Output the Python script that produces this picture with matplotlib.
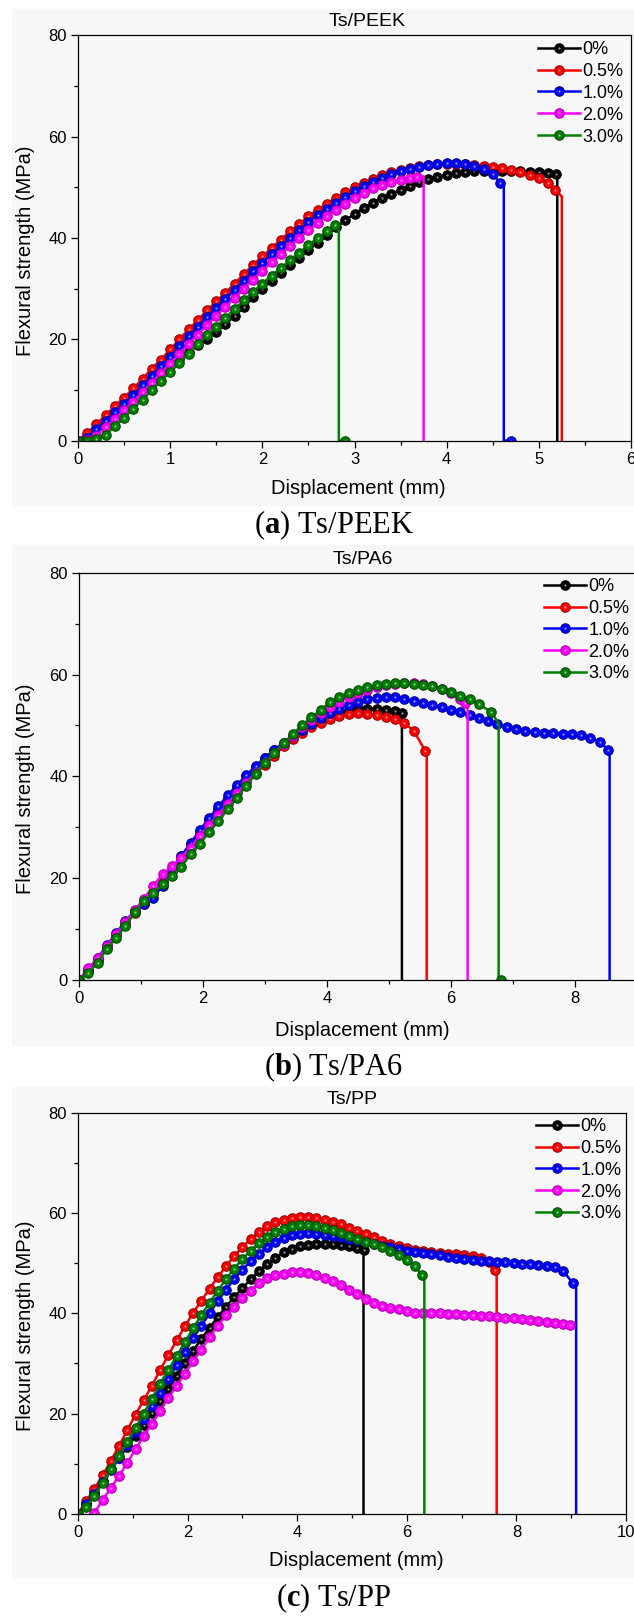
import numpy as np
import matplotlib
matplotlib.use("Agg")
import matplotlib.pyplot as plt
from matplotlib.lines import Line2D
from matplotlib.patches import Rectangle
from matplotlib.ticker import MultipleLocator, FixedLocator

plt.rcParams['font.family'] = ['Liberation Sans', 'DejaVu Sans']
plt.rcParams['mathtext.fontset'] = 'custom'
plt.rcParams['mathtext.rm'] = 'Liberation Serif'
plt.rcParams['mathtext.bf'] = 'Liberation Serif:bold'

nan = np.nan

LABELS = ['0%', '0.5%', '1.0%', '2.0%', '3.0%']
COLORS = ['#000000', '#ff0000', '#0000ff', '#ff00ff', '#008000']
EDGES = ['#000000', '#a00000', '#0000a0', '#b000b0', '#004d00']

# displacement (mm) at which markers sit
GRID_A = [0.0, 0.1, 0.2, 0.3, 0.4, 0.5, 0.6, 0.7, 0.8, 0.9,
          1.0, 1.1, 1.2, 1.3, 1.4, 1.5, 1.6, 1.7, 1.8, 1.9,
          2.0, 2.1, 2.2, 2.3, 2.4, 2.5, 2.6, 2.7, 2.8, 2.9,
          3.0, 3.1, 3.2, 3.3, 3.4, 3.5, 3.6, 3.7, 3.8, 3.9,
          4.0, 4.1, 4.2, 4.3, 4.4, 4.5, 4.6, 4.7, 4.8, 4.9,
          5.0, 5.1, 5.2]
GRID_BC = [0.0, 0.15, 0.3, 0.45, 0.6, 0.75, 0.9, 1.05, 1.2, 1.35,
           1.5, 1.65, 1.8, 1.95, 2.1, 2.25, 2.4, 2.55, 2.7, 2.85,
           3.0, 3.15, 3.3, 3.45, 3.6, 3.75, 3.9, 4.05, 4.2, 4.35,
           4.5, 4.65, 4.8, 4.95, 5.1, 5.25, 5.4, 5.55, 5.7, 5.85,
           6.0, 6.15, 6.3, 6.45, 6.6, 6.75, 6.9, 7.05, 7.2, 7.35,
           7.5, 7.65, 7.8, 7.95, 8.1, 8.25, 8.4, 8.55, 8.7, 8.85,
           9.0]

# ---- (a) Ts/PEEK, flexural strength (MPa); last value sits at *_END ----
a_0 = [0.0, 0.6, 2.2, 3.9, 5.6, 7.2, 8.8, 10.4, 11.9, 13.4,
       14.8, 16.2, 17.5, 18.8, 20.1, 21.5, 23.0, 24.6, 26.4, 28.3,
       30.0, 31.6, 33.1, 34.6, 36.1, 37.6, 39.1, 40.6, 42.1, 43.5,
       44.8, 45.9, 47.0, 47.9, 48.7, 49.5, 50.3, 51.0, 51.6, 52.1,
       52.5, 52.8, 53.0, 53.2, 53.3, 53.3, 53.3, 53.2, 53.2, 53.1,
       53.0, 52.9,
       52.7]
a_05 = [0.0, 1.5, 3.3, 5.0, 6.8, 8.5, 10.3, 12.2, 14.2, 16.0,
        18.0, 20.0, 22.0, 23.8, 25.7, 27.5, 29.2, 31.0, 32.9, 34.7,
        36.4, 38.0, 39.7, 41.3, 42.8, 44.3, 45.6, 46.8, 48.0, 49.0,
        50.0, 50.9, 51.7, 52.4, 53.0, 53.5, 53.9, 54.3, 54.5, 54.6,
        54.7, 54.7, 54.6, 54.5, 54.3, 54.1, 53.8, 53.4, 53.0, 52.5,
        51.8, 50.8,
        49.5]
a_10 = [0.0, 0.6, 2.2, 3.9, 5.6, 7.3, 9.0, 10.9, 12.8, 14.7,
        16.6, 18.6, 20.6, 22.5, 24.4, 26.2, 28.0, 29.8, 31.6, 33.4,
        35.1, 36.8, 38.4, 40.0, 41.6, 43.1, 44.5, 45.8, 47.0, 48.1,
        49.2, 50.2, 51.1, 51.9, 52.6, 53.2, 53.7, 54.1, 54.4, 54.6,
        54.8, 54.8, 54.6, 54.3, 53.7, 52.7,
        50.8]
a_20 = [0.0, 0.2, 1.0, 2.6, 4.3, 6.0, 7.7, 9.5, 11.4, 13.3,
        15.2, 17.1, 19.0, 20.9, 22.8, 24.6, 26.4, 28.2, 30.0, 31.8,
        33.5, 35.2, 36.8, 38.4, 40.0, 41.5, 42.9, 44.3, 45.6, 46.8,
        47.9, 48.9, 49.8, 50.5, 51.1, 51.5, 51.8,
        52.0]
a_30 = [0.0, 0.0, 0.3, 1.2, 2.8, 4.5, 6.3, 8.1, 9.9, 11.8,
        13.6, 15.4, 17.2, 19.0, 20.8, 22.5, 24.3, 26.0, 27.7, 29.4,
        31.0, 32.6, 34.1, 35.6, 37.1, 38.6, 40.0, 41.3,
        42.6]
A_END = [5.19, 5.18, 4.58, 3.68, 2.79]
A_DROP = [5.20, 5.25, 4.62, 3.75, 2.83]
A_DROP_Y = [52.7, 48.2, 50.5, 52.2, 42.0]
A_TAIL = [None, None, 4.70, None, 2.90]

# ---- (b) Ts/PA6 ----
b_0 = [0.0, 1.8, 4.0, 6.5, 9.0, 11.3, 13.5, 15.3, 17.0, 19.2,
       21.8, 24.3, 26.7, 29.1, 31.4, 33.6, 35.8, 37.9, 40.0, 41.9,
       43.6, 45.1, 46.5, 47.8, 49.0, 50.0, 50.9, 51.7, 52.4, 52.9,
       53.2, 53.3, 53.3, 53.1, 52.8,
       52.5]
b_05 = [0.0, 1.8, 4.0, 6.4, 8.8, 11.0, 13.2, 15.0, 16.8, 19.0,
        21.4, 23.8, 26.1, 28.4, 30.6, 32.8, 34.9, 36.9, 38.8, 40.6,
        42.3, 44.0, 45.9, 47.4, 48.6, 49.6, 50.5, 51.3, 51.9, 52.3,
        52.5, 52.3, 52.0, 51.7, 51.2, 50.4, 49.0,
        44.9]
b_10 = [0.0, 2.0, 4.3, 6.8, 9.2, 11.6, 13.6, 15.0, 16.2, 18.5,
        21.5, 24.3, 26.9, 29.4, 31.8, 34.1, 36.3, 38.3, 40.2, 42.0,
        43.7, 45.2, 46.6, 47.9, 49.1, 50.3, 51.4, 52.4, 53.3, 54.1,
        54.7, 55.1, 55.4, 55.6, 55.5, 55.2, 54.8, 54.4, 54.0, 53.6,
        53.1, 52.6, 52.0, 51.4, 50.8, 50.3, 49.7, 49.3, 49.0, 48.8,
        48.6, 48.5, 48.4, 48.3, 48.1, 47.6, 46.8,
        45.2]
b_20 = [0.0, 2.3, 4.3, 6.6, 9.0, 11.4, 13.7, 16.0, 18.5, 20.8,
        22.4, 24.0, 26.0, 28.2, 30.4, 32.5, 34.6, 36.7, 38.7, 40.7,
        42.6, 44.5, 46.3, 48.0, 49.6, 51.1, 52.4, 53.6, 54.7, 55.6,
        56.4, 57.0, 57.5, 57.9, 58.2, 58.4, 58.4, 58.2, 57.8, 57.2,
        56.3, 55.2,
        54.4]
b_30 = [0.0, 1.3, 3.4, 6.1, 8.3, 10.6, 13.3, 15.6, 17.1, 18.8,
        20.4, 22.2, 24.7, 26.8, 29.0, 31.2, 33.5, 35.8, 38.2, 40.4,
        42.6, 44.6, 46.5, 48.3, 50.0, 51.6, 53.0, 54.6, 55.6, 56.4,
        57.0, 57.5, 57.9, 58.2, 58.3, 58.3, 58.2, 58.0, 57.7, 57.2,
        56.6, 55.8, 55.1, 54.2,
        52.7]
B_END = [5.21, 5.59, 8.54, 6.23, 6.64]
B_DROP = [5.21, 5.61, 8.56, 6.27, 6.77]
B_DROP_Y = [52.5, 44.9, 45.2, 54.0, 50.5]
B_TAIL = [None, None, None, None, 6.80]

# ---- (c) Ts/PP ----
c_0 = [0.0, 2.0, 4.3, 6.6, 8.9, 11.2, 13.4, 15.5, 17.8, 20.2,
       22.6, 25.0, 27.5, 30.0, 32.5, 34.9, 37.1, 39.2, 41.3, 43.2,
       45.0, 46.8, 48.4, 49.9, 51.1, 52.2, 52.9, 53.4, 53.7, 53.9,
       53.9, 53.9, 53.7, 53.4, 53.0,
       52.6]
c_05 = [0.0, 2.6, 5.0, 7.7, 10.6, 13.6, 16.7, 19.8, 22.7, 25.6,
        28.7, 31.7, 34.6, 37.4, 40.1, 42.5, 44.9, 47.2, 49.4, 51.4,
        53.2, 54.8, 56.2, 57.3, 58.1, 58.6, 58.9, 59.1, 59.1, 58.9,
        58.6, 58.2, 57.7, 57.1, 56.5, 55.9, 55.2, 54.5, 53.9, 53.4,
        53.0, 52.7, 52.5, 52.3, 52.1, 51.9, 51.8, 51.6, 51.4, 51.1,
        50.3,
        48.6]
c_10 = [0.0, 1.9, 4.0, 6.3, 8.7, 11.2, 13.8, 16.4, 19.0, 21.6,
        24.2, 26.9, 29.6, 32.3, 35.0, 37.5, 40.0, 42.4, 44.7, 46.8,
        48.7, 50.4, 51.9, 53.2, 54.3, 55.1, 55.6, 55.9, 56.0, 55.9,
        55.7, 55.5, 55.2, 54.9, 54.6, 54.2, 53.9, 53.5, 53.2, 52.8,
        52.5, 52.3, 52.1, 51.9, 51.6, 51.3, 51.0, 50.8, 50.6, 50.5,
        50.4, 50.3, 50.2, 50.0, 49.9, 49.8, 49.7, 49.5, 49.2, 48.5,
        46.0]
c_20 = [nan, nan, 0.2, 2.8, 5.2, 7.6, 10.2, 12.9, 15.5, 18.0,
        20.5, 23.2, 25.5, 28.0, 30.4, 32.7, 35.3, 37.5, 39.6, 41.3,
        43.0, 44.5, 46.0, 47.0, 47.6, 47.9, 48.2, 48.3, 48.1, 47.7,
        47.1, 46.4, 45.6, 44.7, 43.8, 42.8, 42.0, 41.5, 41.1, 40.8,
        40.5, 40.1, 40.0, 40.0, 40.0, 39.9, 39.8, 39.7, 39.6, 39.5,
        39.4, 39.3, 39.1, 39.0, 38.9, 38.7, 38.5, 38.2, 38.0, 37.8,
        37.6]
c_30 = [0.0, 1.4, 3.6, 6.2, 8.9, 11.6, 14.4, 17.2, 20.0, 23.0,
        26.0, 28.7, 31.5, 34.2, 37.0, 39.6, 42.1, 44.5, 46.8, 48.9,
        50.8, 52.5, 54.0, 55.2, 56.2, 56.9, 57.3, 57.5, 57.5, 57.4,
        57.1, 56.7, 56.1, 55.5, 54.9, 54.3, 53.8, 53.2, 52.5, 51.7,
        50.6, 49.4,
        47.6]
C_END = [5.21, 7.61, 9.03, 8.98, 6.27]
C_DROP = [5.21, 7.64, 9.09, None, 6.32]
C_DROP_Y = [52.6, 48.0, 45.0, None, 46.5]
C_TAIL = [None, None, None, None, None]

W, H = 634, 1618
MS = 6.8
fig = plt.figure(figsize=(W / 100, H / 100), dpi=100)


def px_box(l, r, t, b):
    return [l / W, 1 - b / H, (r - l) / W, (b - t) / H]


def ftext(x, y, s, **kw):
    fig.text(x / W, 1 - y / H, s, ha='center', va='center', **kw)


def draw_panel(box, grid, series, end_x, drop_x, drop_y, tail, xmax, xticks, xmin):
    ax = fig.add_axes(px_box(*box))
    ax.set_facecolor('none')
    for i, y in enumerate(series):
        xs = list(grid[:len(y) - 1]) + [end_x[i]]
        lx, ly = list(xs), list(y)
        mx, my = list(xs), list(y)
        if drop_x[i] is not None:
            lx += [drop_x[i], drop_x[i]]
            ly += [drop_y[i], 0]
        if tail[i] is not None:
            lx.append(tail[i]); ly.append(0)
            mx.append(tail[i]); my.append(0)
        z = 2 + i * 0.1
        ax.plot(lx, ly, color=COLORS[i], lw=1.8, zorder=z)
        ax.plot(mx, my, ls='none', marker='o', ms=MS, mfc=COLORS[i],
                mec=EDGES[i], mew=0.8, zorder=z)
        ax.plot(mx, my, ls='none', marker='o', ms=1.6, mfc='white',
                mec='none', alpha=0.6, zorder=z)
    ax.set_xlim(0, xmax)
    ax.set_ylim(0, 80)
    ax.xaxis.set_major_locator(FixedLocator(xticks))
    ax.xaxis.set_minor_locator(MultipleLocator(xmin))
    ax.yaxis.set_major_locator(MultipleLocator(20))
    ax.yaxis.set_minor_locator(MultipleLocator(10))
    ax.tick_params(which='both', direction='out', top=False, right=False,
                   labelsize=12, width=0.9)
    ax.tick_params(which='major', length=5, pad=3)
    ax.tick_params(which='minor', length=3)
    for sp in ax.spines.values():
        sp.set_linewidth(0.9)
    return ax


def add_legend(x, y):
    handles = []
    for i in range(5):
        l1 = Line2D([], [], color=COLORS[i], lw=1.8, marker='o', ms=MS,
                    mfc=COLORS[i], mec=EDGES[i], mew=0.8)
        l2 = Line2D([], [], ls='none', marker='o', ms=1.6, mfc='white',
                    mec='none', alpha=0.6)
        handles.append((l1, l2))
    fig.legend(handles, LABELS, loc='upper left',
               bbox_to_anchor=(x / W, 1 - y / H), bbox_transform=fig.transFigure,
               frameon=False, fontsize=13, handlelength=2.3, handletextpad=0.15,
               labelspacing=0.27, borderpad=0, borderaxespad=0, numpoints=1)


# grey backgrounds behind each panel
for top, bot in [(9, 506), (545, 1046), (1087, 1578)]:
    fig.add_artist(Rectangle((12 / W, 1 - bot / H), (W - 12) / W, (bot - top) / H,
                             transform=fig.transFigure, facecolor='#f7f7f7',
                             edgecolor='none', zorder=-10))

draw_panel((78, 631, 35.5, 440.6), GRID_A, [a_0, a_05, a_10, a_20, a_30],
           A_END, A_DROP, A_DROP_Y, A_TAIL, 6, [0, 1, 2, 3, 4, 5, 6], 0.5)
draw_panel((78.9, 698.9, 572.7, 980), GRID_BC, [b_0, b_05, b_10, b_20, b_30],
           B_END, B_DROP, B_DROP_Y, B_TAIL, 10, [0, 2, 4, 6, 8], 1)
draw_panel((78, 626, 1112.6, 1514), GRID_BC, [c_0, c_05, c_10, c_20, c_30],
           C_END, C_DROP, C_DROP_Y, C_TAIL, 10, [0, 2, 4, 6, 8, 10], 1)

add_legend(538, 41)
add_legend(544, 578)
add_legend(536, 1118)

titles = ['Ts/PEEK', 'Ts/PA6', 'Ts/PP']
title_pos = [(367, 21), (363, 560), (352, 1099)]
xlab_pos = [(358, 488), (362, 1030), (356, 1560)]
ylab_pos = [(26, 251), (26, 789), (26, 1326)]
caps = [r'($\mathbf{a}$) Ts/PEEK', r'($\mathbf{b}$) Ts/PA6', r'($\mathbf{c}$) Ts/PP']
cap_pos = [(334, 525), (334, 1067), (334, 1598)]

for k in range(3):
    ftext(*title_pos[k], titles[k], fontsize=14)
    ftext(*xlab_pos[k], 'Displacement (mm)', fontsize=14.5)
    ftext(*ylab_pos[k], 'Flexural strength (MPa)', fontsize=14.5, rotation=90)
    ftext(*cap_pos[k], caps[k], fontsize=22, family='Liberation Serif')

fig.savefig('out.png', dpi=100)
